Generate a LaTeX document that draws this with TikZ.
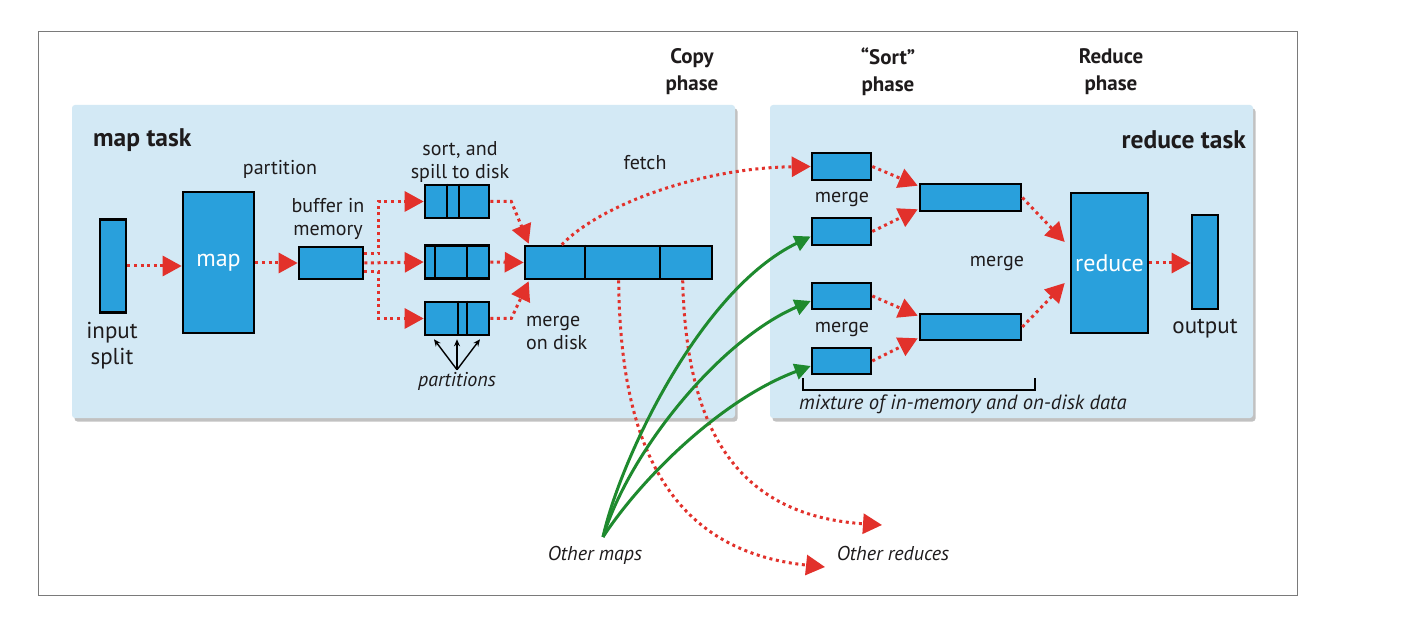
\documentclass[tikz,border=0pt]{standalone}
\usepackage{fontspec}
\setmainfont{PT Sans}
\usetikzlibrary{arrows.meta,shadows,calc}
\definecolor{panel}{HTML}{D3E9F5}
\definecolor{boxfill}{HTML}{29A0DC}
\definecolor{flow}{HTML}{E2312B}
\definecolor{mapgreen}{HTML}{1E8A2E}
\definecolor{ink}{HTML}{1E1B1C}
\definecolor{frame}{HTML}{7A7A7A}

\tikzset{
  panelbox/.style={fill=panel, draw=none, rounded corners=3pt,
    drop shadow={shadow xshift=2.5pt, shadow yshift=-3.5pt, opacity=0.4, fill=black!60}},
  blk/.style={draw=black, line width=2.6pt, fill=boxfill, inner sep=0pt},
  divider/.style={draw=black, line width=2.6pt},
  flowline/.style={draw=flow, line width=3pt, dash pattern=on 3pt off 3.6pt,
    -{Triangle[length=19pt,width=20pt]}},
  greenline/.style={draw=mapgreen, line width=3pt,
    -{Triangle[length=16pt,width=16pt]}},
  partarrow/.style={draw=black, line width=1.4pt, -{Stealth[length=7pt,width=6pt]}},
  lbl/.style={font=\fontsize{20}{23}\selectfont, inner sep=0pt, align=center},
  biglbl/.style={font=\fontsize{23}{26}\selectfont, inner sep=0pt, align=center},
  itlbl/.style={font=\fontsize{20}{23}\selectfont\itshape, inner sep=0pt},
  phase/.style={font=\fontsize{21}{27}\selectfont\bfseries, inner sep=0pt, align=center},
  tasklbl/.style={font=\fontsize{25.5}{29}\selectfont\bfseries, inner sep=0pt},
  boxtext/.style={font=\fontsize{24}{28}\selectfont, text=white},
}

\begin{document}
\begin{tikzpicture}[x=1pt,y=-1pt,text=ink]
\useasboundingbox (0,0) rectangle (1414,620);
\fill[white] (0,0) rectangle (1414,620);
\draw[frame, line width=1pt] (38,32) rectangle (1297,595);

% task panels
\path[panelbox] (72,105) rectangle (735,418);
\path[panelbox] (770,105) rectangle (1253,418);
\node[tasklbl, anchor=west] (maptask) at (93,140) {map task};
\node[tasklbl, anchor=east] (redtask) at (1246,140) {reduce task};

% phase headings
\node[phase] (copyph) at (692,72) {Copy\\phase};
\node[phase] (sortph) at (888,72) {“Sort”\\phase};
\node[phase] (redph) at (1111,72) {Reduce\\phase};

% ---- map side ----
\node[blk, minimum width=26pt, minimum height=93pt] (insplit) at (113,266) {};
\node[biglbl] (insplitlbl) at (112,346) {input\\split};
\node[blk, minimum width=71pt, minimum height=141pt] (mapbox) at (218.5,262.5) {};
\node[boxtext] (maptxt) at (mapbox.center) {map};
\node[lbl] (partlbl) at (280,169) {partition};
\node[blk, minimum width=64pt, minimum height=32pt] (buffer) at (331,263) {};
\node[lbl] (bufferlbl) at (328,219) {buffer in\\memory};

\node[blk, minimum width=64pt, minimum height=33pt] (spillA) at (457,201.5) {};
\node[blk, minimum width=64pt, minimum height=33pt] (spillB) at (457,262) {};
\node[blk, minimum width=64pt, minimum height=33pt] (spillC) at (457,318.5) {};
\draw[divider] (447,0 |- spillA.north) -- (447,0 |- spillA.south);
\draw[divider] (459,0 |- spillA.north) -- (459,0 |- spillA.south);
\draw[divider] (435,0 |- spillB.north) -- (435,0 |- spillB.south);
\draw[divider] (467,0 |- spillB.north) -- (467,0 |- spillB.south);
\draw[divider] (458,0 |- spillC.north) -- (458,0 |- spillC.south);
\draw[divider] (467,0 |- spillC.north) -- (467,0 |- spillC.south);
\node[lbl] (spilllbl) at (460,162) {sort, and\\spill to disk};

\node[blk, minimum width=187pt, minimum height=33pt] (merged) at (618.5,262.5) {};
\draw[divider] (585,0 |- merged.north) -- (585,0 |- merged.south);
\draw[divider] (660,0 |- merged.north) -- (660,0 |- merged.south);
\node[lbl, align=left, anchor=west] (mergedisk) at (526,333) {merge\\on disk};
\node[lbl] (fetchlbl) at (645,163) {fetch};

\node[itlbl] (partslbl) at (457,381) {partitions};
\draw[partarrow] ([yshift=2pt]partslbl.north) -- ($(spillC.south)+(-23,3)$);
\draw[partarrow] ([yshift=2pt]partslbl.north) -- ($(spillC.south)+(0,3)$);
\draw[partarrow] ([yshift=2pt]partslbl.north) -- ($(spillC.south)+(23,3)$);

% map-side flow
\draw[flowline] (insplit.east) -- (insplit.east -| mapbox.west);
\draw[flowline] (mapbox.east |- buffer.west) -- (buffer.west);
\draw[flowline] ([yshift=9pt]buffer.east) -- ++(14,0) |- (spillA.west);
\draw[flowline] (buffer.east) -- (spillB.west);
\draw[flowline] ([yshift=-9pt]buffer.east) -- ++(14,0) |- (spillC.west);
\draw[flowline] (spillA.east) -- ++(21,0) -- ([xshift=5pt,yshift=1pt]merged.north west);
\draw[flowline] (spillB.east) -- (merged.west);
\draw[flowline] (spillC.east) -- ++(21,0) -- ([xshift=5pt,yshift=-1pt]merged.south west);

% ---- reduce side ----
\node[blk, minimum width=59pt, minimum height=27pt] (r1) at (841.5,166.5) {};
\node[blk, minimum width=59pt, minimum height=27pt] (r2) at (841.5,231.5) {};
\node[blk, minimum width=59pt, minimum height=26pt] (r3) at (841.5,296) {};
\node[blk, minimum width=59pt, minimum height=26pt] (r4) at (841.5,361) {};
\node[lbl] (mergeA) at (842,200) {merge};
\node[lbl] (mergeB) at (842,330) {merge};
\node[blk, minimum width=101pt, minimum height=27pt] (m1) at (970.5,197.5) {};
\node[blk, minimum width=101pt, minimum height=26pt] (m2) at (970.5,327) {};
\node[lbl] (mergeC) at (997,264) {merge};
\node[blk, minimum width=77pt, minimum height=140pt] (reduce) at (1109.5,263) {};
\node[boxtext] (redtxt) at (reduce.center) {reduce};
\node[blk, minimum width=26pt, minimum height=94pt] (outbox) at (1205,262) {};
\node[biglbl] (outlbl) at (1205,329) {output};

\draw[line width=1.3pt] (803,378) -- (803,390) -- (1035,390) -- (1035,378);
\node[itlbl, font=\fontsize{20.6}{23}\selectfont\itshape, anchor=west] (mixlbl) at (799,404) {mixture of in-memory and on-disk data};

\draw[flowline] (r1.east) -- ([xshift=-1pt,yshift=-3pt]m1.north west);
\draw[flowline] (r2.east) -- ([xshift=-1pt,yshift=3pt]m1.south west);
\draw[flowline] (r3.east) -- ([xshift=-1pt,yshift=-3pt]m2.north west);
\draw[flowline] (r4.east) -- ([xshift=-1pt,yshift=3pt]m2.south west);
\draw[flowline] (m1.east) -- ($(reduce.west)+(-5,-21)$);
\draw[flowline] (m2.east) -- ($(reduce.west)+(-5,20)$);
\draw[flowline] (reduce.east) -- (reduce.east -| outbox.west);

% ---- shuffle between tasks ----
\node[itlbl] (othermaps) at (595,555) {Other maps};
\node[itlbl] (otherreds) at (893,553) {Other reduces};
\coordinate (mapsrc) at (603,537);
\coordinate (redA) at (825,567);
\coordinate (redB) at (882,525);

\draw[flowline] ([xshift=38pt]merged.north west) .. controls (600,205) and (700,168) .. (r1.west);
\draw[flowline] ([xshift=95pt]merged.south west) .. controls (620,430) and (660,550) .. (redA);
\draw[flowline] ([xshift=159pt]merged.south west) .. controls (686,420) and (730,515) .. (redB);

\draw[greenline] (mapsrc) .. controls (620,460) and (700,290) .. ([yshift=-5pt]r2.west);
\draw[greenline] (mapsrc) .. controls (630,450) and (720,340) .. ([yshift=-5pt]r3.west);
\draw[greenline] (mapsrc) .. controls (640,480) and (720,400) .. ([yshift=-5pt]r4.west);
\end{tikzpicture}
\end{document}
